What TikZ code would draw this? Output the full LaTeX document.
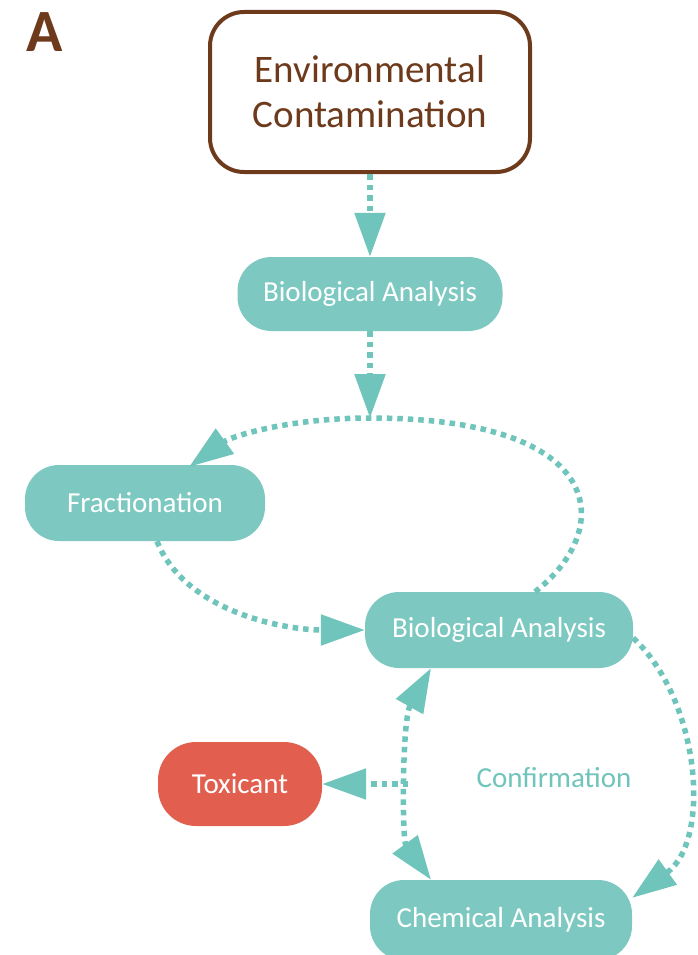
\documentclass[tikz,border=0pt]{standalone}
\usepackage{fontspec}
\setmainfont{Carlito}
\usetikzlibrary{arrows.meta}
\definecolor{teal1}{HTML}{7DC9C1}
\definecolor{tealar}{HTML}{6FC4BB}
\definecolor{brown1}{HTML}{6E3A1C}
\definecolor{red1}{HTML}{E25F50}
\tikzset{
  pill/.style={fill=teal1, rounded corners=34pt, inner sep=0pt, text=white, font=\fontsize{29}{34}\selectfont},
  redpill/.style={fill=red1, rounded corners=38pt, inner sep=0pt, text=white, font=\fontsize{29}{34}\selectfont},
  envbox/.style={draw=brown1, line width=4pt, rounded corners=34pt, fill=white, inner sep=0pt, text=brown1, align=center, font=\fontsize{39}{45}\selectfont},
  tip/.tip={Triangle[length=44pt,width=30pt]},
  conn/.style={draw=tealar, line width=5.5pt, dash pattern=on 5.5pt off 5pt, -tip},
  connboth/.style={conn, tip-tip}
}
\begin{document}
\begin{tikzpicture}[x=1pt,y=-1pt]
\useasboundingbox (0,0) rectangle (698,955);
\node[text=brown1, font=\fontsize{60}{60}\selectfont\bfseries] (lblA) at (45,32) {A};
\node[envbox, minimum width=320pt, minimum height=160pt] (env) at (370,92) {Environmental\\Contamination};
\node[pill, minimum width=265pt, minimum height=74pt] (bio1) at (370,294) {Biological Analysis};
\node[pill, minimum width=240pt, minimum height=76pt] (frac) at (145,503) {Fractionation};
\node[pill, minimum width=268pt, minimum height=76pt] (bio2) at (499,630) {Biological Analysis};
\node[redpill, minimum width=164pt, minimum height=84pt] (tox) at (240,784) {Toxicant};
\node[pill, minimum width=262pt, minimum height=80pt] (chem) at (501,920) {Chemical Analysis};
\node[text=tealar, font=\fontsize{29}{34}\selectfont] (conf) at (554,778) {Confirmation};
\coordinate (junc) at (370,418);
\coordinate (split) at (408,784);
% connectors
\draw[conn] (env.south) -- (bio1.north);
\draw[conn] (bio1.south) -- (junc);
\draw[conn] ([xshift=36pt]bio2.north) .. controls (615,530) and (610,418) .. (junc)
   .. controls (290,418) and (232,436) .. ([xshift=-76pt,yshift=-2pt]frac.north east);
\draw[conn] ([xshift=12pt]frac.south) .. controls (185,612) and (285,630) .. (bio2.west);
\draw[conn] ([yshift=-8pt]bio2.east) .. controls (700,700) and (712,840) .. ([yshift=-18pt]chem.north east);
\draw[connboth] ([xshift=-68pt]bio2.south) .. controls (402,720) and (402,840) .. ([xshift=-70pt]chem.north);
\draw[conn] (split) -- (tox.east);
\end{tikzpicture}
\end{document}
